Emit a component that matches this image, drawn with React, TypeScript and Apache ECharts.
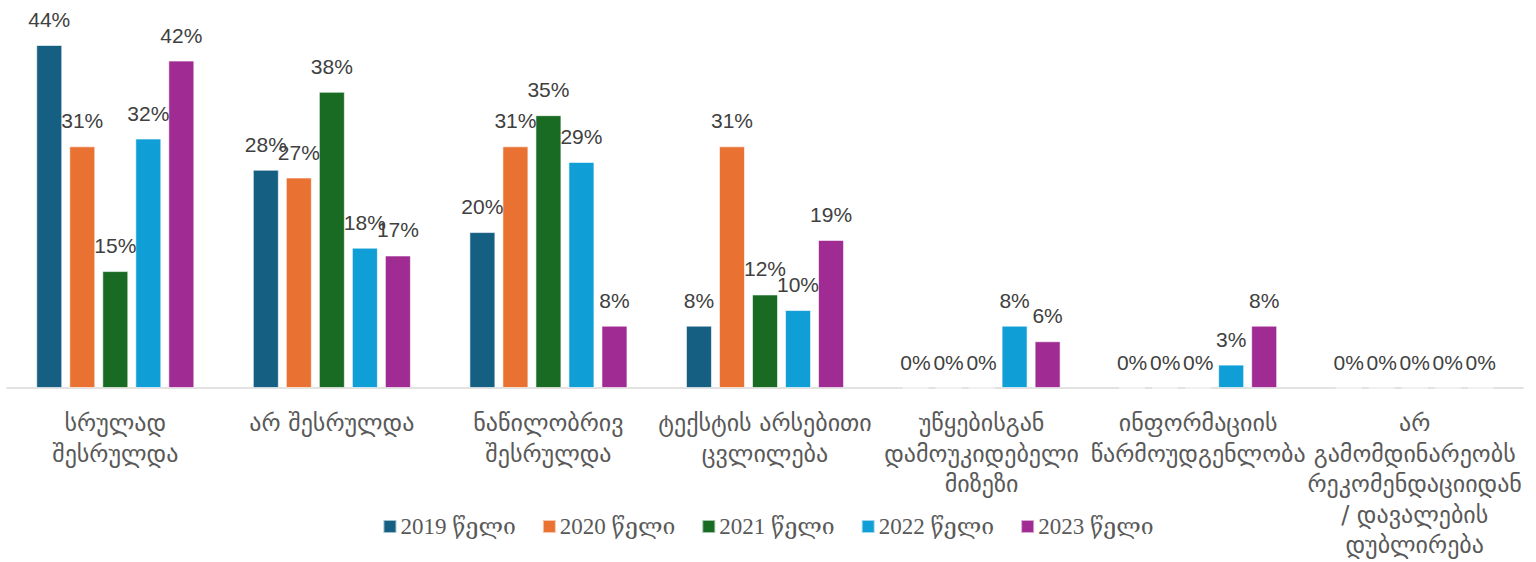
import React, { useEffect, useRef } from "react";
import * as echarts from "echarts";

const categories = [
  "სრულად\nშესრულდა",
  "არ შესრულდა",
  "ნაწილობრივ\nშესრულდა",
  "ტექსტის არსებითი\nცვლილება",
  "უწყებისგან\nდამოუკიდებელი\nმიზეზი",
  "ინფორმაციის\nწარმოუდგენლობა",
  "არ\nგამომდინარეობს\nრეკომენდაციიდან\n/ დავალების\nდუბლირება",
];

const seriesNames = ["2019 წელი", "2020 წელი", "2021 წელი", "2022 წელი", "2023 წელი"];

const values2019 = [44, 28, 20, 8, 0, 0, 0];
const values2020 = [31, 27, 31, 31, 0, 0, 0];
const values2021 = [15, 38, 35, 12, 0, 0, 0];
const values2022 = [32, 18, 29, 10, 8, 3, 0];
const values2023 = [42, 17, 8, 19, 6, 8, 0];

const colors = ["#156082", "#E97132", "#196B24", "#0F9ED5", "#A02B93"];

export default function App() {
  const ref = useRef<HTMLDivElement>(null);
  useEffect(() => {
    if (!ref.current) return;
    const chart = echarts.init(ref.current, undefined, { renderer: "svg" });
    const all = [values2019, values2020, values2021, values2022, values2023];
    chart.setOption({
      animation: false,
      color: colors,
      grid: { left: 7, right: 13, top: 45, bottom: 174, containLabel: false },
      legend: {
        bottom: 19,
        left: "center",
        itemWidth: 13,
        itemHeight: 13,
        itemGap: 26,
        icon: "rect",
        textStyle: {
          fontFamily: "'Liberation Serif', 'DejaVu Serif', serif",
          fontSize: 23,
          color: "#595959",
          padding: [0, 0, 0, -1],
        },
        data: seriesNames,
      },
      xAxis: {
        type: "category",
        data: categories,
        axisLine: { lineStyle: { color: "#d9d9d9", width: 1.5 } },
        axisTick: { show: false },
        axisLabel: {
          interval: 0,
          color: "#595959",
          fontSize: 24,
          lineHeight: 30.5,
          margin: 20,
          fontFamily: "'DejaVu Sans', sans-serif",
        },
      },
      yAxis: {
        type: "value",
        min: 0,
        max: 44,
        show: false,
        splitLine: { show: false },
      },
      series: all.map((vals, i) => ({
        name: seriesNames[i],
        type: "bar",
        data: vals,
        barWidth: 26,
        barGap: "27%",
        itemStyle: { borderColor: "rgba(255,255,255,0.6)", borderWidth: 1 },
        label: {
          show: true,
          position: "top",
          distance: 15,
          formatter: "{c}%",
          fontSize: 21,
          color: "#404040",
          fontFamily: "'Liberation Sans', Arial, sans-serif",
        },
      })),
    });
    return () => chart.dispose();
  }, []);
  return (
    <div
      ref={ref}
      style={{ position: "fixed", left: 0, top: 0, width: 1536, height: 562, background: "#fff" }}
    />
  );
}
